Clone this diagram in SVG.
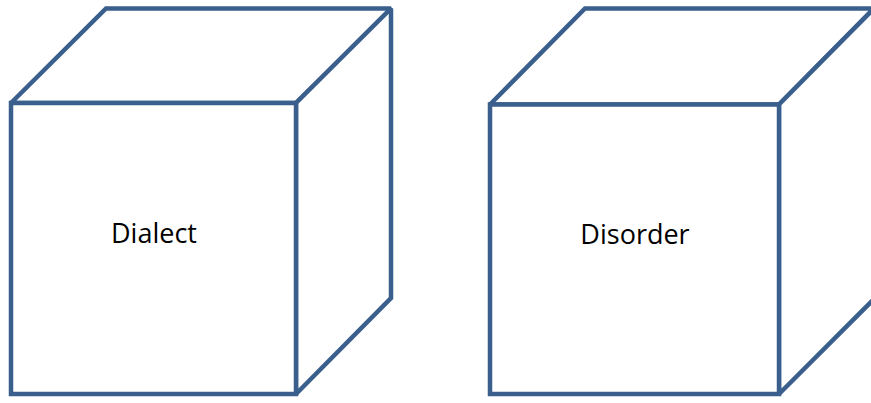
<svg xmlns="http://www.w3.org/2000/svg" width="871" height="403" viewBox="0 0 871 403">
<style>
.edge{fill:#FFFFFF;stroke:#3A5F8C;stroke-width:4.5;stroke-linejoin:miter;stroke-miterlimit:1.5}
.lbl{font-family:"Open Sans","Liberation Sans",sans-serif;font-size:27px;fill:#000000;text-anchor:middle}
</style>
<rect width="871" height="403" fill="#FFFFFF"/>
<g id="cube-dialect">
<polygon class="edge" points="11,103 106,8.5 391,8.5 296,103"/>
<polygon class="edge" points="296,103 391,8.5 391,298 296,394"/>
<rect class="edge" x="11" y="103" width="285" height="291"/>
<text class="lbl" x="154" y="243">Dialect</text>
</g>
<g id="cube-disorder">
<polygon class="edge" points="490,104.5 585,8.5 874,8.5 779,104.5"/>
<polygon class="edge" points="779,104.5 874,8.5 874,299 779,394"/>
<rect class="edge" x="490" y="104.5" width="289" height="289.5"/>
<text class="lbl" x="635" y="244">Disorder</text>
</g>
<g id="connectors"></g>
</svg>
